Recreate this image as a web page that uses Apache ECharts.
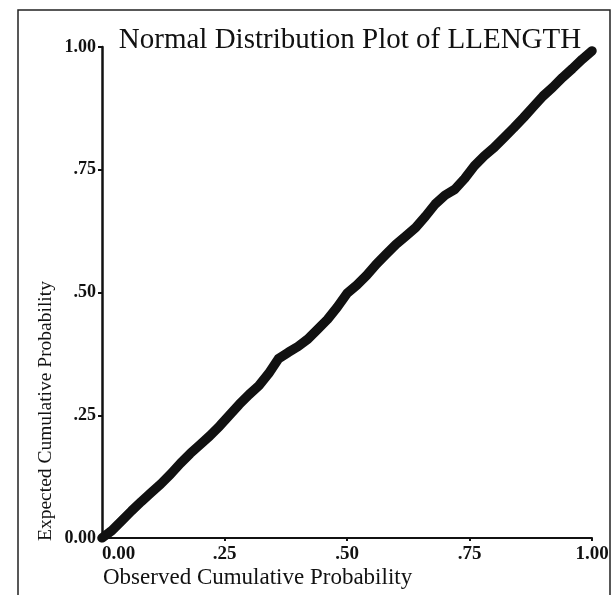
<!DOCTYPE html>
<html>
<head>
<meta charset="utf-8">
<script src="https://cdn.jsdelivr.net/npm/echarts@6/dist/echarts.min.js"></script>
<style>html,body{margin:0;padding:0;background:#fff;}#c{width:613px;height:595px;}</style>
</head>
<body>
<div id="c"></div>
<script>
var titleText = "Normal Distribution Plot of LLENGTH";
var xName = "Observed Cumulative Probability";
var yName = "Expected Cumulative Probability";
var tickValues = [0, 0.25, 0.5, 0.75, 1];
var tickLabels = ["0.00", ".25", ".50", ".75", "1.00"];
var observed = [0, 0.02, 0.04, 0.06, 0.08, 0.10, 0.12, 0.14, 0.16, 0.18, 0.20, 0.22, 0.24, 0.26, 0.28, 0.30, 0.32, 0.34, 0.36, 0.38, 0.40, 0.42, 0.44, 0.46, 0.48, 0.50, 0.52, 0.54, 0.56, 0.58, 0.60, 0.62, 0.64, 0.66, 0.68, 0.70, 0.72, 0.74, 0.76, 0.78, 0.80, 0.82, 0.84, 0.86, 0.88, 0.90, 0.92, 0.94, 0.96, 0.98, 1.00];
var expected = [0, 0.015, 0.035, 0.055, 0.074, 0.092, 0.11, 0.13, 0.152, 0.172, 0.19, 0.208, 0.228, 0.25, 0.272, 0.292, 0.31, 0.335, 0.365, 0.378, 0.39, 0.405, 0.425, 0.445, 0.47, 0.498, 0.515, 0.535, 0.558, 0.578, 0.598, 0.615, 0.632, 0.655, 0.68, 0.698, 0.71, 0.732, 0.758, 0.778, 0.795, 0.815, 0.835, 0.856, 0.878, 0.9, 0.918, 0.938, 0.956, 0.975, 0.992];

var points = observed.map(function (u, i) { return [u, expected[i]]; });
var serif = "'Liberation Serif', 'DejaVu Serif', serif";

function labelFor(v) {
  for (var i = 0; i < tickValues.length; i++) {
    if (Math.abs(tickValues[i] - v) < 1e-6) return tickLabels[i];
  }
  return "";
}

var chart = echarts.init(document.getElementById('c'), null, {renderer: 'canvas'});
chart.setOption({
  backgroundColor: '#fff',
  animation: false,
  grid: {left: 102, right: 21, top: 47, bottom: 57},
  xAxis: {
    type: 'value', min: 0, max: 1,
    splitLine: {show: false},
    axisLine: {show: true, onZero: false, lineStyle: {color: '#111', width: 2}},
    axisTick: {show: true, customValues: tickValues, length: 3, lineStyle: {color: '#111', width: 2}},
    axisLabel: {customValues: tickValues, formatter: labelFor, alignMinLabel: 'left', color: '#111', fontFamily: serif, fontWeight: 'bold', fontSize: 19, margin: 7}
  },
  yAxis: {
    type: 'value', min: 0, max: 1,
    splitLine: {show: false},
    axisLine: {show: true, onZero: false, lineStyle: {color: '#111', width: 2.5}},
    axisTick: {show: true, customValues: tickValues, length: 4, lineStyle: {color: '#111', width: 2}},
    axisLabel: {customValues: tickValues, formatter: labelFor, color: '#111', fontFamily: serif, fontWeight: 'bold', fontSize: 18, margin: 6}
  },
  series: [{
    type: 'line',
    data: points,
    symbol: 'none',
    lineStyle: {color: '#111', width: 9.5, cap: 'round', join: 'round'}
  }],
  graphic: [
    {type: 'rect', shape: {x: 18, y: 10, width: 592, height: 600}, style: {fill: 'none', stroke: '#222', lineWidth: 1.5}, silent: true},
    {type: 'text', x: 350, y: 40, style: {text: titleText, font: "29px " + serif, fill: '#111', textAlign: 'center', textVerticalAlign: 'middle'}},
    {type: 'text', x: 103, y: 578, style: {text: xName, font: "23px " + serif, fill: '#111', textAlign: 'left', textVerticalAlign: 'middle'}},
    {type: 'text', x: 46, y: 541, rotation: Math.PI / 2, style: {text: yName, font: "19.5px " + serif, fill: '#111', textAlign: 'left', textVerticalAlign: 'middle'}}
  ]
});
</script>
</body>
</html>
